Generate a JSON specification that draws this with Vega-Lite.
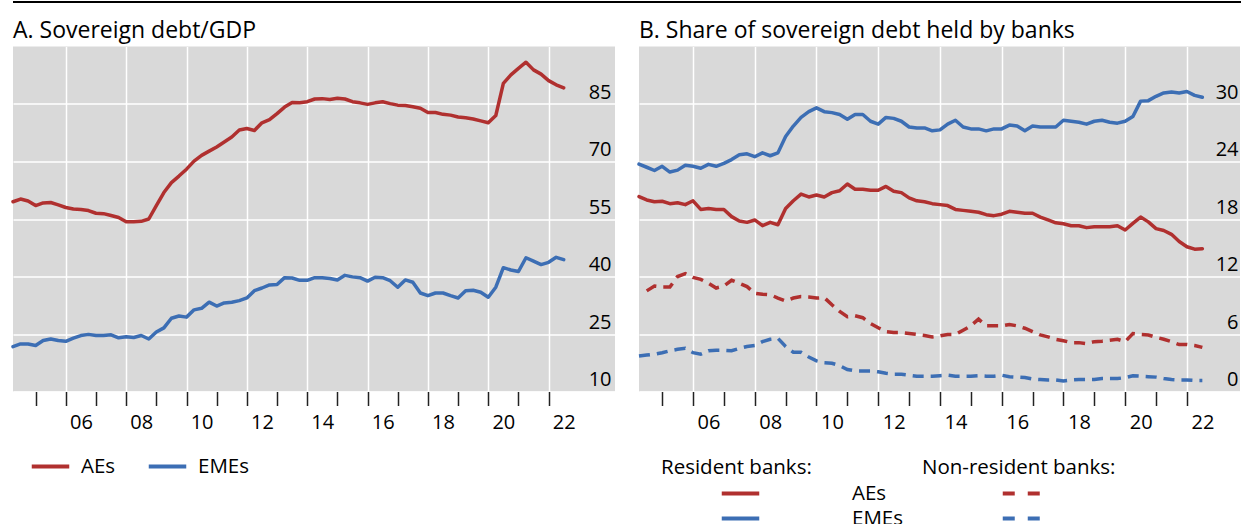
{
  "$schema": "https://vega.github.io/schema/vega-lite/v6.json",
  "padding": {"left": 11, "top": 1, "right": 0, "bottom": 0},
  "background": "white",
  "config": {
    "font": "Open Sans",
    "view": {"fill": "#d9d9d9", "stroke": null},
    "axis": {
      "labelFont": "Open Sans",
      "labelFontSize": 20,
      "labelColor": "#000000",
      "gridColor": "#ffffff",
      "gridWidth": 1.5,
      "domain": false,
      "title": null
    },
    "legend": {
      "labelFont": "Open Sans",
      "labelFontSize": 20.5,
      "labelColor": "#000000",
      "titleFont": "Open Sans",
      "titleFontSize": 20.5,
      "titleFontWeight": "normal",
      "titleColor": "#000000",
      "titleLimit": 400,
      "labelLimit": 300,
      "padding": 0,
      "symbolType": "M-1.5,0H1.5",
      "symbolSize": 625,
      "symbolStrokeWidth": 4
    },
    "title": {
      "font": "Open Sans",
      "fontSize": 23,
      "fontWeight": "normal",
      "anchor": "start",
      "frame": "group",
      "baseline": "alphabetic",
      "offset": 4,
      "color": "#000000"
    }
  },
  "datasets": {
    "debt_gdp": [
      {"t": 2004.25, "AEs": 59.5, "EMEs": 21.7},
      {"t": 2004.5, "AEs": 60.2, "EMEs": 22.4},
      {"t": 2004.75, "AEs": 59.7, "EMEs": 22.4},
      {"t": 2005, "AEs": 58.5, "EMEs": 22.0},
      {"t": 2005.25, "AEs": 59.2, "EMEs": 23.3},
      {"t": 2005.5, "AEs": 59.3, "EMEs": 23.7},
      {"t": 2005.75, "AEs": 58.7, "EMEs": 23.3},
      {"t": 2006, "AEs": 58.0, "EMEs": 23.1},
      {"t": 2006.25, "AEs": 57.6, "EMEs": 23.9},
      {"t": 2006.5, "AEs": 57.5, "EMEs": 24.6},
      {"t": 2006.75, "AEs": 57.2, "EMEs": 24.9},
      {"t": 2007, "AEs": 56.5, "EMEs": 24.6},
      {"t": 2007.25, "AEs": 56.4, "EMEs": 24.6},
      {"t": 2007.5, "AEs": 55.9, "EMEs": 24.8},
      {"t": 2007.75, "AEs": 55.4, "EMEs": 24.0},
      {"t": 2008, "AEs": 54.3, "EMEs": 24.3},
      {"t": 2008.25, "AEs": 54.3, "EMEs": 24.1},
      {"t": 2008.5, "AEs": 54.4, "EMEs": 24.6},
      {"t": 2008.75, "AEs": 55.0, "EMEs": 23.7},
      {"t": 2009, "AEs": 58.5, "EMEs": 25.5},
      {"t": 2009.25, "AEs": 61.9, "EMEs": 26.6},
      {"t": 2009.5, "AEs": 64.5, "EMEs": 29.1},
      {"t": 2009.75, "AEs": 66.2, "EMEs": 29.7},
      {"t": 2010, "AEs": 68.0, "EMEs": 29.4},
      {"t": 2010.25, "AEs": 70.1, "EMEs": 31.3},
      {"t": 2010.5, "AEs": 71.6, "EMEs": 31.7},
      {"t": 2010.75, "AEs": 72.7, "EMEs": 33.3},
      {"t": 2011, "AEs": 73.8, "EMEs": 32.3},
      {"t": 2011.25, "AEs": 75.1, "EMEs": 33.1},
      {"t": 2011.5, "AEs": 76.4, "EMEs": 33.3},
      {"t": 2011.75, "AEs": 78.2, "EMEs": 33.7},
      {"t": 2012, "AEs": 78.6, "EMEs": 34.4},
      {"t": 2012.25, "AEs": 78.1, "EMEs": 36.3},
      {"t": 2012.5, "AEs": 80.1, "EMEs": 37.0},
      {"t": 2012.75, "AEs": 80.9, "EMEs": 37.8},
      {"t": 2013, "AEs": 82.5, "EMEs": 37.9},
      {"t": 2013.25, "AEs": 84.2, "EMEs": 39.7},
      {"t": 2013.5, "AEs": 85.4, "EMEs": 39.6},
      {"t": 2013.75, "AEs": 85.3, "EMEs": 39.0},
      {"t": 2014, "AEs": 85.6, "EMEs": 39.0},
      {"t": 2014.25, "AEs": 86.3, "EMEs": 39.7},
      {"t": 2014.5, "AEs": 86.4, "EMEs": 39.7},
      {"t": 2014.75, "AEs": 86.2, "EMEs": 39.5},
      {"t": 2015, "AEs": 86.5, "EMEs": 39.1},
      {"t": 2015.25, "AEs": 86.3, "EMEs": 40.3},
      {"t": 2015.5, "AEs": 85.6, "EMEs": 39.9},
      {"t": 2015.75, "AEs": 85.3, "EMEs": 39.7},
      {"t": 2016, "AEs": 84.9, "EMEs": 38.8},
      {"t": 2016.25, "AEs": 85.3, "EMEs": 39.8},
      {"t": 2016.5, "AEs": 85.6, "EMEs": 39.7},
      {"t": 2016.75, "AEs": 85.1, "EMEs": 38.9},
      {"t": 2017, "AEs": 84.7, "EMEs": 37.2},
      {"t": 2017.25, "AEs": 84.6, "EMEs": 39.1},
      {"t": 2017.5, "AEs": 84.3, "EMEs": 38.5},
      {"t": 2017.75, "AEs": 83.9, "EMEs": 35.7},
      {"t": 2018, "AEs": 82.8, "EMEs": 35.0},
      {"t": 2018.25, "AEs": 82.8, "EMEs": 35.7},
      {"t": 2018.5, "AEs": 82.3, "EMEs": 35.7},
      {"t": 2018.75, "AEs": 82.1, "EMEs": 35.0},
      {"t": 2019, "AEs": 81.6, "EMEs": 34.4},
      {"t": 2019.25, "AEs": 81.4, "EMEs": 36.3},
      {"t": 2019.5, "AEs": 81.1, "EMEs": 36.4},
      {"t": 2019.75, "AEs": 80.6, "EMEs": 35.9},
      {"t": 2020, "AEs": 80.1, "EMEs": 34.6},
      {"t": 2020.25, "AEs": 82.0, "EMEs": 37.2},
      {"t": 2020.5, "AEs": 90.4, "EMEs": 42.3},
      {"t": 2020.75, "AEs": 92.6, "EMEs": 41.7},
      {"t": 2021, "AEs": 94.3, "EMEs": 41.3},
      {"t": 2021.25, "AEs": 95.9, "EMEs": 44.9},
      {"t": 2021.5, "AEs": 93.9, "EMEs": 44.0},
      {"t": 2021.75, "AEs": 92.8, "EMEs": 43.1},
      {"t": 2022, "AEs": 91.1, "EMEs": 43.7},
      {"t": 2022.25, "AEs": 90.0, "EMEs": 45.0},
      {"t": 2022.5, "AEs": 89.2, "EMEs": 44.4}
    ],
    "resident": [
      {"t": 2004.25, "AEs": 20.34, "EMEs": 23.72},
      {"t": 2004.5, "AEs": 19.99, "EMEs": 23.4},
      {"t": 2004.75, "AEs": 19.8, "EMEs": 23.06},
      {"t": 2005, "AEs": 19.85, "EMEs": 23.5},
      {"t": 2005.25, "AEs": 19.6, "EMEs": 22.9},
      {"t": 2005.5, "AEs": 19.7, "EMEs": 23.1},
      {"t": 2005.75, "AEs": 19.5, "EMEs": 23.6},
      {"t": 2006, "AEs": 19.9, "EMEs": 23.5},
      {"t": 2006.25, "AEs": 19.0, "EMEs": 23.3},
      {"t": 2006.5, "AEs": 19.1, "EMEs": 23.7},
      {"t": 2006.75, "AEs": 19.0, "EMEs": 23.5},
      {"t": 2007, "AEs": 19.0, "EMEs": 23.8},
      {"t": 2007.25, "AEs": 18.25, "EMEs": 24.2},
      {"t": 2007.5, "AEs": 17.8, "EMEs": 24.7},
      {"t": 2007.75, "AEs": 17.65, "EMEs": 24.8},
      {"t": 2008, "AEs": 17.9, "EMEs": 24.5},
      {"t": 2008.25, "AEs": 17.3, "EMEs": 24.9},
      {"t": 2008.5, "AEs": 17.65, "EMEs": 24.6},
      {"t": 2008.75, "AEs": 17.4, "EMEs": 24.9},
      {"t": 2009, "AEs": 19.1, "EMEs": 26.6},
      {"t": 2009.25, "AEs": 19.9, "EMEs": 27.7},
      {"t": 2009.5, "AEs": 20.6, "EMEs": 28.6},
      {"t": 2009.75, "AEs": 20.3, "EMEs": 29.2},
      {"t": 2010, "AEs": 20.5, "EMEs": 29.6},
      {"t": 2010.25, "AEs": 20.3, "EMEs": 29.2},
      {"t": 2010.5, "AEs": 20.75, "EMEs": 29.1},
      {"t": 2010.75, "AEs": 20.95, "EMEs": 28.9},
      {"t": 2011, "AEs": 21.65, "EMEs": 28.4},
      {"t": 2011.25, "AEs": 21.1, "EMEs": 28.9},
      {"t": 2011.5, "AEs": 21.1, "EMEs": 28.9},
      {"t": 2011.75, "AEs": 21.0, "EMEs": 28.2},
      {"t": 2012, "AEs": 21.0, "EMEs": 27.9},
      {"t": 2012.25, "AEs": 21.4, "EMEs": 28.6},
      {"t": 2012.5, "AEs": 20.9, "EMEs": 28.5},
      {"t": 2012.75, "AEs": 20.75, "EMEs": 28.2},
      {"t": 2013, "AEs": 20.2, "EMEs": 27.6},
      {"t": 2013.25, "AEs": 19.9, "EMEs": 27.5},
      {"t": 2013.5, "AEs": 19.8, "EMEs": 27.5},
      {"t": 2013.75, "AEs": 19.6, "EMEs": 27.2},
      {"t": 2014, "AEs": 19.5, "EMEs": 27.3},
      {"t": 2014.25, "AEs": 19.4, "EMEs": 27.9},
      {"t": 2014.5, "AEs": 19.0, "EMEs": 28.3},
      {"t": 2014.75, "AEs": 18.9, "EMEs": 27.6},
      {"t": 2015, "AEs": 18.8, "EMEs": 27.4},
      {"t": 2015.25, "AEs": 18.7, "EMEs": 27.4},
      {"t": 2015.5, "AEs": 18.45, "EMEs": 27.2},
      {"t": 2015.75, "AEs": 18.35, "EMEs": 27.4},
      {"t": 2016, "AEs": 18.5, "EMEs": 27.4},
      {"t": 2016.25, "AEs": 18.8, "EMEs": 27.8},
      {"t": 2016.5, "AEs": 18.7, "EMEs": 27.7},
      {"t": 2016.75, "AEs": 18.6, "EMEs": 27.2},
      {"t": 2017, "AEs": 18.6, "EMEs": 27.7},
      {"t": 2017.25, "AEs": 18.2, "EMEs": 27.6},
      {"t": 2017.5, "AEs": 17.9, "EMEs": 27.6},
      {"t": 2017.75, "AEs": 17.6, "EMEs": 27.6},
      {"t": 2018, "AEs": 17.5, "EMEs": 28.3},
      {"t": 2018.25, "AEs": 17.3, "EMEs": 28.2},
      {"t": 2018.5, "AEs": 17.3, "EMEs": 28.1},
      {"t": 2018.75, "AEs": 17.1, "EMEs": 27.9},
      {"t": 2019, "AEs": 17.2, "EMEs": 28.2},
      {"t": 2019.25, "AEs": 17.2, "EMEs": 28.3},
      {"t": 2019.5, "AEs": 17.2, "EMEs": 28.1},
      {"t": 2019.75, "AEs": 17.3, "EMEs": 28.0},
      {"t": 2020, "AEs": 16.85, "EMEs": 28.2},
      {"t": 2020.25, "AEs": 17.55, "EMEs": 28.7},
      {"t": 2020.5, "AEs": 18.2, "EMEs": 30.3},
      {"t": 2020.75, "AEs": 17.7, "EMEs": 30.35},
      {"t": 2021, "AEs": 17.0, "EMEs": 30.8},
      {"t": 2021.25, "AEs": 16.8, "EMEs": 31.15},
      {"t": 2021.5, "AEs": 16.4, "EMEs": 31.25},
      {"t": 2021.75, "AEs": 15.65, "EMEs": 31.15},
      {"t": 2022, "AEs": 15.1, "EMEs": 31.3},
      {"t": 2022.25, "AEs": 14.85, "EMEs": 30.9},
      {"t": 2022.5, "AEs": 14.9, "EMEs": 30.7}
    ],
    "nonresident": [
      {"t": 2004.25, "AEs": null, "EMEs": 3.7},
      {"t": 2004.5, "AEs": 10.5, "EMEs": 3.8},
      {"t": 2004.75, "AEs": 11.0, "EMEs": 3.9},
      {"t": 2005, "AEs": 10.9, "EMEs": 4.05},
      {"t": 2005.25, "AEs": 10.9, "EMEs": 4.25},
      {"t": 2005.5, "AEs": 12.0, "EMEs": 4.4},
      {"t": 2005.75, "AEs": 12.3, "EMEs": 4.5},
      {"t": 2006, "AEs": 11.9, "EMEs": 4.05},
      {"t": 2006.25, "AEs": 11.7, "EMEs": 3.9},
      {"t": 2006.5, "AEs": 11.3, "EMEs": 4.25},
      {"t": 2006.75, "AEs": 10.8, "EMEs": 4.3},
      {"t": 2007, "AEs": 11.0, "EMEs": 4.3},
      {"t": 2007.25, "AEs": 11.6, "EMEs": 4.25},
      {"t": 2007.5, "AEs": 11.3, "EMEs": 4.5},
      {"t": 2007.75, "AEs": 10.95, "EMEs": 4.7},
      {"t": 2008, "AEs": 10.25, "EMEs": 4.8},
      {"t": 2008.25, "AEs": 10.15, "EMEs": 5.2},
      {"t": 2008.5, "AEs": 10.1, "EMEs": 5.45},
      {"t": 2008.75, "AEs": 9.75, "EMEs": 5.55},
      {"t": 2009, "AEs": 9.45, "EMEs": 4.7},
      {"t": 2009.25, "AEs": 9.75, "EMEs": 4.1},
      {"t": 2009.5, "AEs": 9.9, "EMEs": 4.1},
      {"t": 2009.75, "AEs": 9.85, "EMEs": 3.6},
      {"t": 2010, "AEs": 9.75, "EMEs": 3.2},
      {"t": 2010.25, "AEs": 9.8, "EMEs": 3.0},
      {"t": 2010.5, "AEs": 9.05, "EMEs": 2.95},
      {"t": 2010.75, "AEs": 8.35, "EMEs": 2.7},
      {"t": 2011, "AEs": 7.8, "EMEs": 2.3},
      {"t": 2011.25, "AEs": 7.9, "EMEs": 2.15},
      {"t": 2011.5, "AEs": 7.7, "EMEs": 2.15},
      {"t": 2011.75, "AEs": 7.1, "EMEs": 2.15},
      {"t": 2012, "AEs": 6.65, "EMEs": 2.05},
      {"t": 2012.25, "AEs": 6.25, "EMEs": 1.9},
      {"t": 2012.5, "AEs": 6.15, "EMEs": 1.8},
      {"t": 2012.75, "AEs": 6.15, "EMEs": 1.8},
      {"t": 2013, "AEs": 6.05, "EMEs": 1.7},
      {"t": 2013.25, "AEs": 5.95, "EMEs": 1.6},
      {"t": 2013.5, "AEs": 5.85, "EMEs": 1.6},
      {"t": 2013.75, "AEs": 5.7, "EMEs": 1.6},
      {"t": 2014, "AEs": 5.8, "EMEs": 1.65},
      {"t": 2014.25, "AEs": 5.95, "EMEs": 1.7},
      {"t": 2014.5, "AEs": 5.95, "EMEs": 1.6},
      {"t": 2014.75, "AEs": 6.4, "EMEs": 1.6},
      {"t": 2015, "AEs": 6.85, "EMEs": 1.6},
      {"t": 2015.25, "AEs": 7.55, "EMEs": 1.65},
      {"t": 2015.5, "AEs": 6.85, "EMEs": 1.6},
      {"t": 2015.75, "AEs": 6.85, "EMEs": 1.6},
      {"t": 2016, "AEs": 6.85, "EMEs": 1.7},
      {"t": 2016.25, "AEs": 7.0, "EMEs": 1.55},
      {"t": 2016.5, "AEs": 6.85, "EMEs": 1.5},
      {"t": 2016.75, "AEs": 6.6, "EMEs": 1.45},
      {"t": 2017, "AEs": 6.25, "EMEs": 1.3},
      {"t": 2017.25, "AEs": 5.9, "EMEs": 1.25},
      {"t": 2017.5, "AEs": 5.7, "EMEs": 1.2},
      {"t": 2017.75, "AEs": 5.45, "EMEs": 1.2},
      {"t": 2018, "AEs": 5.3, "EMEs": 1.1},
      {"t": 2018.25, "AEs": 5.1, "EMEs": 1.2},
      {"t": 2018.5, "AEs": 5.1, "EMEs": 1.25},
      {"t": 2018.75, "AEs": 5.0, "EMEs": 1.25},
      {"t": 2019, "AEs": 5.2, "EMEs": 1.25},
      {"t": 2019.25, "AEs": 5.25, "EMEs": 1.35},
      {"t": 2019.5, "AEs": 5.35, "EMEs": 1.35},
      {"t": 2019.75, "AEs": 5.45, "EMEs": 1.35},
      {"t": 2020, "AEs": 5.2, "EMEs": 1.45},
      {"t": 2020.25, "AEs": 6.05, "EMEs": 1.65},
      {"t": 2020.5, "AEs": 5.95, "EMEs": 1.6},
      {"t": 2020.75, "AEs": 5.9, "EMEs": 1.55},
      {"t": 2021, "AEs": 5.65, "EMEs": 1.5},
      {"t": 2021.25, "AEs": 5.45, "EMEs": 1.35},
      {"t": 2021.5, "AEs": 5.2, "EMEs": 1.25},
      {"t": 2021.75, "AEs": 4.9, "EMEs": 1.2},
      {"t": 2022, "AEs": 4.9, "EMEs": 1.2},
      {"t": 2022.25, "AEs": 4.8, "EMEs": 1.15},
      {"t": 2022.5, "AEs": 4.6, "EMEs": 1.15}
    ]
  },
  "spacing": 16.5,
  "vconcat": [
    {
      "width": 1230,
      "height": 1,
      "view": {"fill": null, "stroke": null},
      "data": {"values": [{"edge": 1}]},
      "mark": {"type": "rule", "color": "#000000", "strokeWidth": 2},
      "encoding": {
        "y": {"field": "edge", "type": "quantitative", "scale": {"domain": [0, 1]}, "axis": null}
      }
    },
    {
      "spacing": 17,
      "resolve": {
        "scale": {"color": "independent", "stroke": "independent"},
        "legend": {"color": "independent", "stroke": "independent"}
      },
      "hconcat": [
        {
          "title": {"text": "A. Sovereign debt/GDP"},
          "width": 602,
          "height": 345,
          "data": {"name": "debt_gdp"},
          "transform": [{"fold": ["AEs", "EMEs"], "as": ["region", "value"]}],
          "mark": {"type": "line", "strokeWidth": 3.5, "strokeJoin": "round", "strokeCap": "round"},
          "encoding": {
            "x": {
              "field": "t", "type": "quantitative",
              "scale": {"domain": [2004.25, 2024.2], "nice": false, "zero": false},
              "axis": {
                "values": [2005, 2006, 2007, 2008, 2009, 2010, 2011, 2012, 2013, 2014, 2015, 2016, 2017, 2018, 2019, 2020, 2021, 2022],
                "grid": true,
                "gridOpacity": {"condition": {"test": "datum.value % 2 === 0", "value": 1}, "value": 0},
                "ticks": true, "tickSize": 14, "tickWidth": 1.5, "tickColor": "#222222",
                "labelExpr": "datum.value % 2 === 0 ? format(datum.value % 100, '02d') : ''",
                "labelOffset": 15.1, "labelBaseline": "alphabetic", "labelPadding": 23,
                "labelAlign": "center", "labelFlush": false, "labelOverlap": false
              }
            },
            "y": {
              "field": "value", "type": "quantitative",
              "scale": {"domain": [10, 100], "nice": false, "zero": false},
              "axis": {
                "orient": "right", "values": [10, 25, 40, 55, 70, 85], "grid": true,
                "ticks": false, "tickSize": 0, "labelAlign": "right", "labelPadding": -4,
                "labelBaseline": "alphabetic", "labelOffset": -6, "labelFlush": false,
                "labelOverlap": false, "minExtent": 0, "maxExtent": 0
              }
            },
            "color": {
              "field": "region", "type": "nominal",
              "scale": {"domain": ["AEs", "EMEs"], "range": ["#b0302f", "#3c6eb4"]},
              "legend": {
                "orient": "none", "legendX": 23, "legendY": 405.5, "direction": "horizontal",
                "title": null, "labelOffset": 16, "columnPadding": 24
              }
            }
          }
        },
        {
          "title": {"text": "B. Share of sovereign debt held by banks"},
          "width": 601,
          "height": 345,
          "encoding": {
            "x": {
              "field": "t", "type": "quantitative",
              "scale": {"domain": [2004.25, 2023.72], "nice": false, "zero": false},
              "axis": {
                "values": [2005, 2006, 2007, 2008, 2009, 2010, 2011, 2012, 2013, 2014, 2015, 2016, 2017, 2018, 2019, 2020, 2021, 2022],
                "grid": true,
                "gridOpacity": {"condition": {"test": "datum.value % 2 === 0", "value": 1}, "value": 0},
                "ticks": true, "tickSize": 14, "tickWidth": 1.5, "tickColor": "#222222",
                "labelExpr": "datum.value % 2 === 0 ? format(datum.value % 100, '02d') : ''",
                "labelOffset": 15.5, "labelBaseline": "alphabetic", "labelPadding": 23,
                "labelAlign": "center", "labelFlush": false, "labelOverlap": false
              }
            },
            "y": {
              "field": "value", "type": "quantitative",
              "scale": {"domain": [0, 36], "nice": false, "zero": false},
              "axis": {
                "orient": "right", "values": [0, 6, 12, 18, 24, 30], "grid": true,
                "ticks": false, "tickSize": 0, "labelAlign": "right", "labelPadding": -2,
                "labelBaseline": "alphabetic", "labelOffset": -6, "labelFlush": false,
                "labelOverlap": false, "minExtent": 0, "maxExtent": 0
              }
            }
          },
          "layer": [
            {
              "data": {"name": "resident"},
              "transform": [{"fold": ["AEs", "EMEs"], "as": ["region", "value"]}],
              "mark": {"type": "line", "strokeWidth": 3.5, "strokeJoin": "round", "strokeCap": "round"},
              "encoding": {
                "color": {
                  "field": "region", "type": "nominal",
                  "scale": {"domain": ["AEs", "EMEs"], "range": ["#b0302f", "#3c6eb4"]},
                  "legend": {
                    "title": "Resident banks:", "orient": "none", "legendX": 22, "legendY": 411.5,
                    "direction": "vertical", "symbolOffset": 65, "labelOffset": 97,
                    "titlePadding": 0.5, "rowPadding": 0
                  }
                }
              }
            },
            {
              "data": {"name": "nonresident"},
              "transform": [{"fold": ["AEs", "EMEs"], "as": ["economy", "value"]}],
              "mark": {"type": "line", "strokeWidth": 3.5, "strokeDash": [11, 7]},
              "encoding": {
                "stroke": {
                  "field": "economy", "type": "nominal",
                  "scale": {"range": ["#b0302f", "#3c6eb4"]},
                  "legend": {
                    "title": "Non-resident banks:", "orient": "none", "legendX": 283, "legendY": 411.5,
                    "direction": "vertical", "symbolOffset": 85, "labelExpr": "''",
                    "symbolDash": [12, 13], "titlePadding": 0.5, "rowPadding": 0
                  }
                }
              }
            }
          ]
        }
      ]
    }
  ]
}
